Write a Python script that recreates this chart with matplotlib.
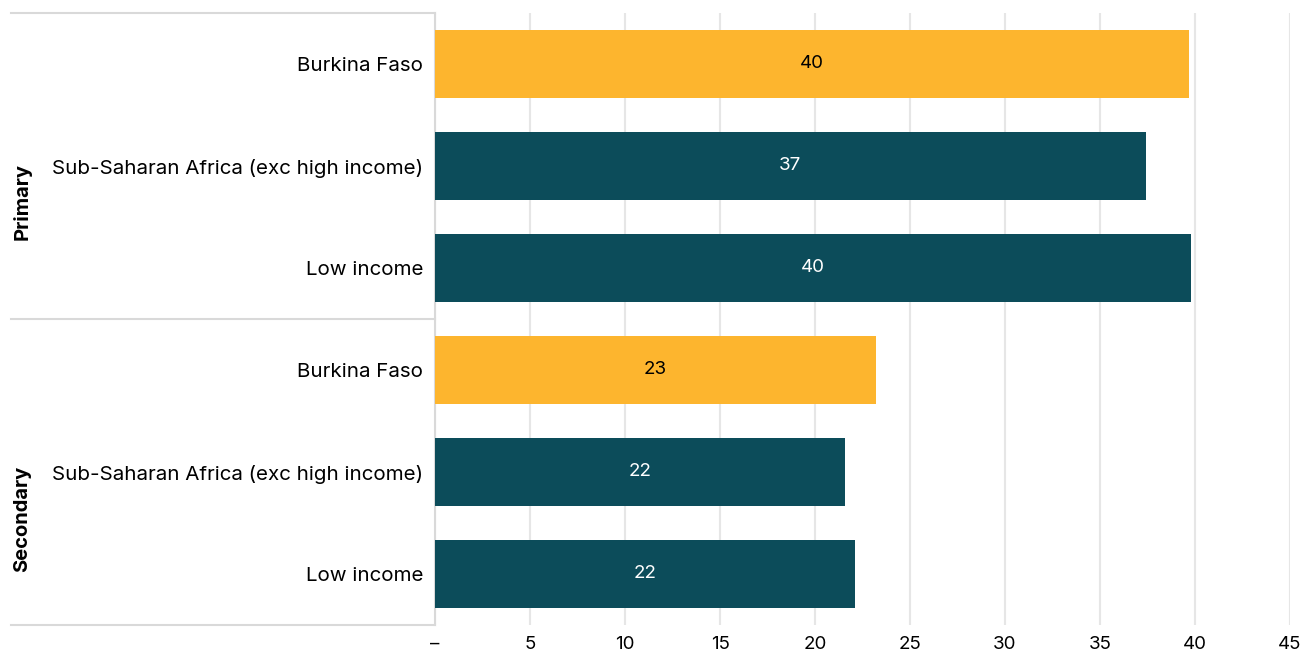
import matplotlib.pyplot as plt
from matplotlib.lines import Line2D
import matplotlib.transforms as mtransforms

plt.rcParams['font.family'] = ['Inter', 'DejaVu Sans']

# categories from top to bottom
groups = ["Primary", "Secondary"]
labels = ["Burkina Faso", "Sub-Saharan Africa (exc high income)", "Low income",
          "Burkina Faso", "Sub-Saharan Africa (exc high income)", "Low income"]
values = [39.7, 37.4, 39.8, 23.2, 21.6, 22.1]
shown = ["40", "37", "40", "23", "22", "22"]
xticks = [0, 5, 10, 15, 20, 25, 30, 35, 40, 45]
xticklabels = ["–", "5", "10", "15", "20", "25", "30", "35", "40", "45"]

orange = "#FDB52E"
teal = "#0C4C5A"
grey = "#D9D9D9"
colors = [orange, teal, teal, orange, teal, teal]
text_colors = ["black", "white", "white", "black", "white", "white"]

fig = plt.figure(figsize=(13.04, 6.52), dpi=100)
ax = fig.add_axes([435 / 1304, 1 - 625 / 652, (1290 - 435) / 1304, 612 / 652])

ypos = list(range(len(values)))
ax.barh(ypos, values, height=0.66, color=colors, zorder=3)
for y, v, s, tc in zip(ypos, values, shown, text_colors):
    ax.text(v / 2, y, s, ha="center", va="center", color=tc, fontsize=13.5, zorder=4)

ax.set_ylim(len(values) - 0.5, -0.5)
ax.set_xlim(0, 45)
ax.set_xticks(xticks)
ax.set_xticklabels(xticklabels, fontsize=13.5)
ax.set_yticks(ypos)
ax.set_yticklabels(labels, fontsize=14.8)
ax.tick_params(axis="y", length=0, pad=8.5)
ax.tick_params(axis="x", length=0, pad=8)
ax.xaxis.grid(True, color="#E6E6E6", linewidth=1.5, zorder=0)
for side in ["top", "right", "bottom"]:
    ax.spines[side].set_visible(False)
ax.spines["left"].set_color(grey)
ax.spines["left"].set_linewidth(1.5)

# separator lines of the label column
for yy in [13, 319, 625]:
    yf = 1 - yy / 652
    fig.add_artist(Line2D([11 / 1304, 435 / 1304], [yf, yf], color=grey, lw=1.5))

# group labels
trans = mtransforms.blended_transform_factory(fig.transFigure, ax.transData)
ax.text(22 / 1304, 1.35, groups[0], rotation=90, ha="center", va="center",
        fontsize=14.5, fontweight="bold", transform=trans)
ax.text(22 / 1304, 4.46, groups[1], rotation=90, ha="center", va="center",
        fontsize=14.5, fontweight="bold", transform=trans)

fig.savefig("out.png", dpi=100)
